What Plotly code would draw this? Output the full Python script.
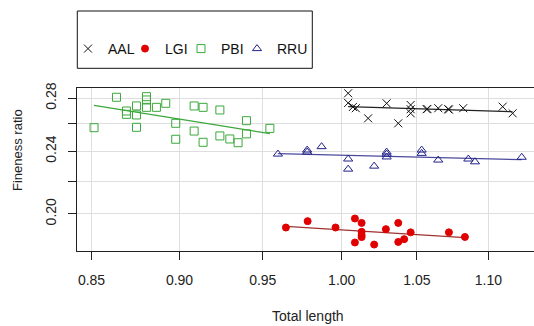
import numpy as np
import plotly.graph_objects as go

# ---- data ----
groups = ["AAL", "LGI", "PBI", "RRU"]

aal_length = [1.0042, 1.0042, 1.0073, 1.0092, 1.0173, 1.0296, 1.0374, 1.0458, 1.0458, 1.0458,
              1.0567, 1.0572, 1.0647, 1.0716, 1.0721, 1.0821, 1.1102, 1.1174]
aal_fineness = [0.2841, 0.2762, 0.2730, 0.2720, 0.2641, 0.2759, 0.2603, 0.2746, 0.2712, 0.2680,
                0.2712, 0.2714, 0.2720, 0.2712, 0.2710, 0.2720, 0.2732, 0.2680]

lgi_length = [0.9644, 0.9781, 0.9960, 1.0086, 1.0086, 1.0130, 1.0130, 1.0130, 1.0130, 1.0213,
              1.0291, 1.0374, 1.0374, 1.0414, 1.0458, 1.0721, 1.0833]
lgi_fineness = [0.1922, 0.1958, 0.1922, 0.1973, 0.1840, 0.1948, 0.1898, 0.1880, 0.1869, 0.1829,
                0.1913, 0.1948, 0.1843, 0.1858, 0.1895, 0.1895, 0.1870]

pbi_length = [0.8514, 0.8639, 0.8695, 0.8695, 0.8752, 0.8752, 0.8752, 0.8809, 0.8809, 0.8809,
              0.8866, 0.8920, 0.8978, 0.8978, 0.9086, 0.9139, 0.9086, 0.9139, 0.9239, 0.9239,
              0.9299, 0.9349, 0.9400, 0.9400, 0.9544]
pbi_fineness = [0.2570, 0.2808, 0.2698, 0.2672, 0.2738, 0.2667, 0.2573, 0.2813, 0.2786, 0.2727,
                0.2727, 0.2759, 0.2603, 0.2485, 0.2738, 0.2727, 0.2545, 0.2463, 0.2706, 0.2509,
                0.2487, 0.2460, 0.2623, 0.2524, 0.2565]

rru_length = [0.9594, 0.9778, 0.9778, 0.9870, 1.0042, 1.0042, 1.0213, 1.0296, 1.0296, 1.0296,
              1.0533, 1.0533, 1.0647, 1.0857, 1.0904, 1.1240]
rru_fineness = [0.2380, 0.2408, 0.2394, 0.2432, 0.2346, 0.2278, 0.2298, 0.2394, 0.2380, 0.2360,
                0.2408, 0.2385, 0.2339, 0.2346, 0.2327, 0.2358]

x_tick_values = [0.85, 0.90, 0.95, 1.00, 1.05, 1.10]
x_tick_labels = ["0.85", "0.90", "0.95", "1.00", "1.05", "1.10"]
y_tick_values = [0.20, 0.22, 0.24, 0.26, 0.28]
y_tick_labels = ["0.20", "", "0.24", "", "0.28"]

# ---- styling ----
FONT = "Liberation Sans, Arial, sans-serif"
series = [
    dict(name="AAL", x=aal_length, y=aal_fineness, symbol="x-thin-open", size=8,
         color="#111111", line_color="#222222", lw=1.2),
    dict(name="LGI", x=lgi_length, y=lgi_fineness, symbol="circle", size=7,
         color="#e00000", line_color="#a03030", lw=1.2),
    dict(name="PBI", x=pbi_length, y=pbi_fineness, symbol="square-open", size=8,
         color="#3aa83a", line_color="#3aa83a", lw=1.2),
    dict(name="RRU", x=rru_length, y=rru_fineness, symbol="triangle-up-open", size=8,
         color="#22228a", line_color="#4a4a9c", lw=1.2),
]
legend_names = ["legend", "legend2", "legend3", "legend4"]

fig = go.Figure()

for s, lg in zip(series, legend_names):
    x = np.array(s["x"])
    y = np.array(s["y"])
    # log-log linear regression over the group's range
    b, a = np.polyfit(np.log10(x), np.log10(y), 1)
    xf = np.array([x.min(), x.max()])
    yf = 10 ** (a + b * np.log10(xf))
    fig.add_trace(go.Scatter(x=xf, y=yf, mode="lines", showlegend=False,
                             line=dict(color=s["line_color"], width=s["lw"]),
                             hoverinfo="skip"))
    fig.add_trace(go.Scatter(
        x=x, y=y, mode="markers", name=s["name"], legend=lg,
        marker=dict(symbol=s["symbol"], size=s["size"], color=s["color"],
                    line=dict(color=s["color"], width=1))))

W, H = 534, 326
ml, mr, mt, mb = 77, 0, 88, 75
pw, ph = W - ml - mr, H - mt - mb

def px_x(p):
    return (p - ml) / pw

def px_y(p):
    return (H - mb - p) / ph

legend_sym_px = [68, 125, 181, 237]
legend_y = px_y(49)
layout_legends = {}
for lg, lx in zip(legend_names, legend_sym_px):
    layout_legends[lg] = dict(x=px_x(lx), y=legend_y, xanchor="left", yanchor="middle",
                              orientation="h", bgcolor="rgba(0,0,0,0)", borderwidth=0,
                              font=dict(family=FONT, size=14, color="#111111"))

fig.update_layout(
    width=W, height=H,
    margin=dict(l=ml, r=mr, t=mt, b=mb, pad=0),
    paper_bgcolor="white", plot_bgcolor="white",
    font=dict(family=FONT, size=14, color="#222222"),
    **layout_legends,
    shapes=[dict(type="rect", xref="paper", yref="paper",
                 x0=px_x(77.3), x1=px_x(312.3), y0=px_y(68.3), y1=px_y(11),
                 line=dict(color="#111111", width=1), fillcolor="rgba(0,0,0,0)",
                 layer="above")],
    annotations=[
        dict(text="Total length", xref="paper", yref="paper", x=px_x(307.5), y=px_y(316),
             xanchor="center", yanchor="middle", showarrow=False,
             font=dict(family=FONT, size=14, color="#222222")),
        dict(text="Fineness ratio", xref="paper", yref="paper", x=px_x(17), y=px_y(150),
             xanchor="center", yanchor="middle", showarrow=False, textangle=-90,
             font=dict(family=FONT, size=13, color="#222222")),
    ],
)

fig.update_xaxes(
    type="log", range=[np.log10(0.84203), np.log10(1.13302)],
    tickvals=x_tick_values, ticktext=x_tick_labels,
    showgrid=True, gridcolor="#dedede", gridwidth=1, zeroline=False,
    showline=True, linecolor="#222222", linewidth=1, mirror=True,
    ticks="outside", ticklen=8, tickcolor="#222222", ticklabelstandoff=8,
    tickfont=dict(family=FONT, size=14, color="#222222"),
)
fig.update_yaxes(
    type="log", range=[np.log10(0.17950), np.log10(0.28848)],
    tickvals=y_tick_values, ticktext=y_tick_labels, tickangle=-90,
    showgrid=True, gridcolor="#dedede", gridwidth=1, zeroline=False,
    showline=True, linecolor="#222222", linewidth=1, mirror=False,
    ticks="outside", ticklen=8, tickcolor="#222222", ticklabelstandoff=6,
    tickfont=dict(family=FONT, size=14, color="#222222"),
)

fig.write_html("out.html")
